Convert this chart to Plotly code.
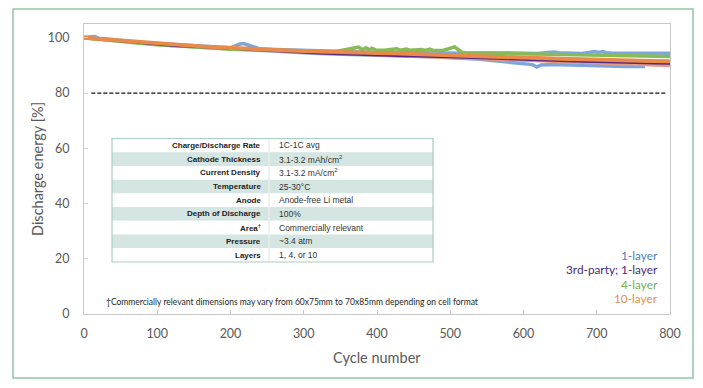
import plotly.graph_objects as go

# ---------------- data ----------------
step_cycles = list(range(0, 801, 20))

blue_a_cycles = [0, 15, 20, 40, 60, 80, 100, 120, 140, 160, 180, 200, 212, 218, 224, 240, 260, 280, 300,
                 320, 340, 360, 380, 400, 420, 440, 460, 480, 500, 520, 540, 560, 580, 600, 620, 636, 642,
                 648, 660, 680, 697, 703, 708, 713, 720, 740, 760, 780, 800]
blue_a_values = [100.2, 100.5, 99.8, 99.2, 98.7, 98.3, 97.9, 97.6, 97.3, 97.0, 96.7, 96.4, 97.7, 97.9, 97.4,
                 96.0, 95.8, 95.6, 95.4, 95.2, 95.1, 95.0, 94.9, 94.8, 94.7, 94.6, 94.5, 94.5, 94.4, 94.4,
                 94.5, 94.6, 94.5, 94.4, 94.3, 94.8, 94.9, 94.6, 94.4, 94.3, 95.0, 94.7, 95.0, 94.6, 94.5,
                 94.4, 94.5, 94.3, 94.4]

blue_b_cycles = [0, 20, 40, 60, 80, 100, 120, 140, 160, 180, 200, 220, 240, 260, 280, 300, 320, 340, 360,
                 380, 400, 420, 440, 460, 480, 500, 520, 540, 560, 580, 600, 612, 618, 624, 640, 660, 680,
                 700, 720, 740, 766]
blue_b_values = [100.0, 99.5, 99.0, 98.5, 98.0, 97.6, 97.2, 96.9, 96.6, 96.3, 96.0, 95.6, 95.2, 95.0, 94.8,
                 94.5, 94.3, 94.1, 93.9, 93.7, 93.5, 93.4, 93.3, 93.2, 93.1, 92.9, 92.6, 92.2, 91.7, 91.1,
                 90.7, 90.3, 89.4, 90.2, 90.3, 90.1, 90.0, 89.8, 89.7, 89.6, 89.6]

green_cycles = [0, 20, 40, 60, 80, 100, 120, 140, 160, 180, 200, 220, 240, 260, 280, 300, 320, 340, 350,
                360, 375, 380, 385, 390, 393, 398, 410, 427, 432, 440, 445, 461, 466, 472, 477, 490, 506,
                512, 516, 520, 540, 560, 580, 600, 620, 640, 660, 680, 700, 720, 740, 760, 780, 800]
green_values = [100.0, 99.4, 98.9, 98.4, 97.9, 97.5, 97.1, 96.8, 96.5, 96.2, 95.9, 95.7, 95.5, 95.3, 95.2,
                95.1, 95.0, 94.9, 95.4, 95.6, 96.6, 95.7, 96.4, 95.6, 96.2, 95.6, 95.5, 96.0, 95.5, 95.9,
                95.5, 95.8, 95.4, 95.9, 95.4, 95.4, 96.7, 95.5, 94.8, 94.6, 94.5, 94.4, 94.3, 94.1, 94.0,
                93.9, 93.8, 93.7, 93.6, 93.5, 93.4, 93.3, 93.3, 93.2]

purple_values = [100.0, 99.5, 99.0, 98.5, 98.0, 97.6, 97.2, 96.9, 96.6, 96.3, 96.0, 95.7, 95.4, 95.2, 94.9,
                 94.6, 94.4, 94.2, 94.0, 93.8, 93.6, 93.5, 93.4, 93.3, 93.2, 93.0, 92.8, 92.6, 92.4, 92.2,
                 92.0, 91.8, 91.7, 91.6, 91.4, 91.3, 91.1, 91.0, 90.8, 90.7, 90.6]

orange_values = [100.0, 99.6, 99.1, 98.6, 98.2, 97.8, 97.5, 97.2, 96.9, 96.6, 96.3, 96.0, 95.8, 95.6, 95.4,
                 95.2, 95.0, 94.9, 94.8, 94.7, 94.5, 94.4, 94.2, 94.1, 93.9, 93.8, 93.6, 93.4, 93.2, 93.0,
                 92.8, 92.6, 92.5, 92.3, 92.2, 92.0, 91.9, 91.8, 91.7, 91.6, 91.5]

orange2_values = [100.0, 99.5, 99.0, 98.5, 98.1, 97.7, 97.3, 97.0, 96.7, 96.4, 96.1, 95.8, 95.5, 95.3, 95.1,
                  94.8, 94.6, 94.4, 94.2, 94.0, 93.8, 93.6, 93.4, 93.2, 93.0, 92.8, 92.6, 92.4, 92.2, 92.0,
                  91.8, 91.6, 91.4, 91.2, 91.0, 90.8, 90.6, 90.4, 90.2, 90.1, 90.0]

threshold_cycles = [10, 795]
threshold_values = [80, 80]

x_ticks = [0, 100, 200, 300, 400, 500, 600, 700, 800]
y_ticks = [0, 20, 40, 60, 80, 100]

legend_labels = ["1-layer", "3rd-party; 1-layer", "4-layer", "10-layer"]

table_params = ["Charge/Discharge Rate", "Cathode Thickness", "Current Density", "Temperature", "Anode",
                "Depth of Discharge", "Area<sup>†</sup>", "Pressure", "Layers"]
table_values = ["1C-1C avg", "3.1-3.2 mAh/cm<sup>2</sup>", "3.1-3.2 mA/cm<sup>2</sup>", "25-30°C",
                "Anode-free Li metal", "100%", "Commercially relevant", "~3.4 atm", "1, 4, or 10"]

footnote = "†Commercially relevant dimensions may vary from 60x75mm to 70x85mm depending on cell format"

# ---------------- styling ----------------
OFF = 8                      # page body margin of the html page
W, H = 703 - OFF, 388 - OFF
L, R, T, B = 84 - OFF, 670 - OFF, 24 - OFF, 314 - OFF  # plot area in figure pixels


def xp(px):
    """reference screenshot pixel x -> paper coordinate"""
    return (px - OFF - L) / (R - L)


def yp(py):
    """reference screenshot pixel y -> paper coordinate"""
    return (B - (py - OFF)) / (B - T)


BLUE, BLUE_T = "#7FA6DA", "#4F7FBD"
PURPLE, PURPLE_T = "#55287F", "#4A2A7C"
GREEN, GREEN_T = "#86BB57", "#7AAE4D"
ORANGE, ORANGE_T = "#E98A4A", "#E0904F"
ORANGE2 = "#E59A86"

fig = go.Figure()

fig.add_trace(go.Scatter(x=blue_b_cycles, y=blue_b_values, mode="lines",
                         line=dict(color=BLUE, width=3.5), hoverinfo="skip"))
fig.add_trace(go.Scatter(x=step_cycles, y=orange2_values, mode="lines",
                         line=dict(color=ORANGE2, width=3.5), hoverinfo="skip"))
fig.add_trace(go.Scatter(x=blue_a_cycles, y=blue_a_values, mode="lines",
                         line=dict(color=BLUE, width=3.5), hoverinfo="skip"))
fig.add_trace(go.Scatter(x=green_cycles, y=green_values, mode="lines",
                         line=dict(color=GREEN, width=3.5), hoverinfo="skip"))
fig.add_trace(go.Scatter(x=step_cycles, y=purple_values, mode="lines",
                         line=dict(color=PURPLE, width=2.2), hoverinfo="skip"))
fig.add_trace(go.Scatter(x=step_cycles, y=orange_values, mode="lines",
                         line=dict(color=ORANGE, width=4), hoverinfo="skip"))
fig.add_trace(go.Scatter(x=threshold_cycles, y=threshold_values, mode="lines",
                         line=dict(color="#111111", width=1.3, dash="4px,2px"), hoverinfo="skip"))

axis_font = dict(family="Lato, 'Open Sans', sans-serif", size=12.5, color="#595959")

fig.update_xaxes(range=[0, 800], tickvals=x_ticks, ticks="inside", ticklen=4, tickcolor="#C8C8C8",
                 showline=True, linecolor="#C8C8C8", linewidth=1, mirror=True, showgrid=False,
                 zeroline=False, tickfont=axis_font, ticklabelstandoff=8)
fig.update_yaxes(range=[0, 105], tickvals=y_ticks, ticks="inside", ticklen=4, tickcolor="#D5D5D5",
                 showline=True, linecolor="#C8C8C8", linewidth=1, mirror=True, showgrid=False,
                 zeroline=False, tickfont=axis_font, ticklabelstandoff=11)

shapes = []
annotations = []

# outer green frame
shapes.append(dict(type="rect", xref="paper", yref="paper", x0=xp(13), x1=xp(693), y0=yp(378), y1=yp(9),
                   line=dict(color="#8FC7A4", width=1.5), fillcolor="rgba(0,0,0,0)", layer="below"))

# axis titles
annotations.append(dict(text="Cycle number", xref="paper", yref="paper", x=xp(377), y=yp(357),
                        showarrow=False, font=dict(family="Lato, sans-serif", size=14.5, color="#595959"),
                        xanchor="center", yanchor="middle"))
annotations.append(dict(text="Discharge energy [%]", xref="paper", yref="paper", x=xp(37), y=yp(169),
                        showarrow=False, textangle=-90,
                        font=dict(family="Lato, sans-serif", size=14.5, color="#595959"),
                        xanchor="center", yanchor="middle"))

# table
tl, tr, tt, tb, tdiv = 112, 433, 138.5, 262, 269
rh = (tb - tt) / len(table_params)
for i, (p, v) in enumerate(zip(table_params, table_values)):
    y0 = tt + i * rh
    y1 = y0 + rh
    fill = "#D5E5E2" if i % 2 == 1 else "#FFFFFF"
    shapes.append(dict(type="rect", xref="paper", yref="paper", x0=xp(tl), x1=xp(tr), y0=yp(y1), y1=yp(y0),
                       line=dict(width=0), fillcolor=fill, layer="above"))
    cy = (y0 + y1) / 2
    annotations.append(dict(text="<b>" + p + "</b>", xref="paper", yref="paper", x=xp(tdiv - 6), y=yp(cy),
                            xanchor="right", yanchor="middle", showarrow=False,
                            font=dict(family="Liberation Sans, Arial, sans-serif", size=8, color="#222222")))
    annotations.append(dict(text=v, xref="paper", yref="paper", x=xp(tdiv + 8), y=yp(cy),
                            xanchor="left", yanchor="middle", showarrow=False,
                            font=dict(family="Liberation Sans, Arial, sans-serif", size=8.5, color="#333333")))
shapes.append(dict(type="line", xref="paper", yref="paper", x0=xp(tdiv), x1=xp(tdiv), y0=yp(tb), y1=yp(tt),
                   line=dict(color="#E6EFEE", width=1.5), layer="above"))
shapes.append(dict(type="rect", xref="paper", yref="paper", x0=xp(tl), x1=xp(tr), y0=yp(tb), y1=yp(tt),
                   line=dict(color="#A9CDBE", width=1.2), fillcolor="rgba(0,0,0,0)", layer="above"))

# legend labels (right aligned text)
legend_colors = [BLUE_T, PURPLE_T, GREEN_T, ORANGE_T]
legend_y = [255, 269.5, 284, 298.5]
for lab, col, ly in zip(legend_labels, legend_colors, legend_y):
    annotations.append(dict(text=lab, xref="paper", yref="paper", x=xp(660), y=yp(ly), xanchor="right",
                            yanchor="middle", showarrow=False,
                            font=dict(family="Lato, sans-serif", size=11.8, color=col)))

# footnote
annotations.append(dict(text=footnote, xref="paper", yref="paper", x=xp(104), y=yp(302), xanchor="left",
                        yanchor="middle", showarrow=False,
                        font=dict(family="Lato, sans-serif", size=8.5, color="#262626")))

fig.update_layout(width=W, height=H, autosize=False, margin=dict(l=L, r=W - R, t=T, b=H - B),
                  paper_bgcolor="white", plot_bgcolor="white", showlegend=False,
                  shapes=shapes, annotations=annotations)

fig.write_html("out.html")
